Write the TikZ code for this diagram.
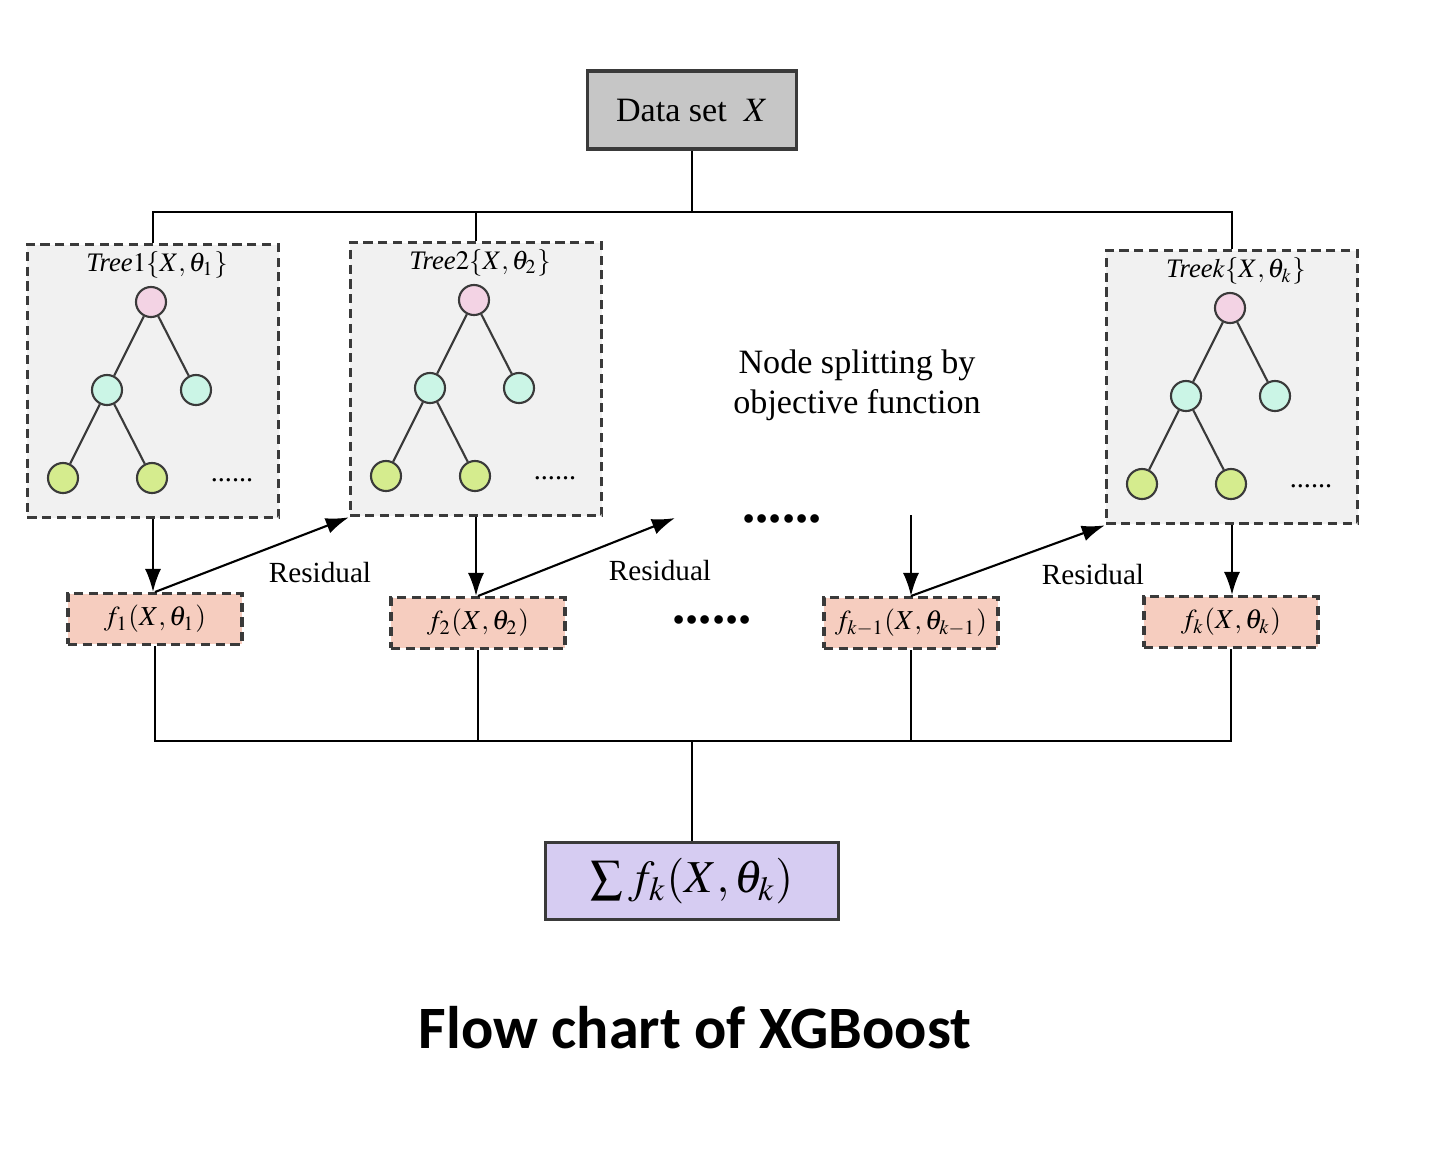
\documentclass[tikz,border=0pt]{standalone}
\usepackage{mathptmx}
\usepackage{fontspec}
\setmainfont{Liberation Serif}
\newfontfamily\titlefont{Carlito}
\usepackage{xcolor}
\usetikzlibrary{arrows.meta,positioning}

\definecolor{datagray}{HTML}{C6C6C6}
\definecolor{treebg}{HTML}{F1F1F1}
\definecolor{rootpink}{HTML}{F3D3E4}
\definecolor{midmint}{HTML}{CBF5E6}
\definecolor{leafgreen}{HTML}{D5EC8E}
\definecolor{fpink}{HTML}{F6CDBF}
\definecolor{sumlav}{HTML}{D6CCF2}
\definecolor{edgegray}{HTML}{3A3A3A}

\begin{document}
\begin{tikzpicture}[x=0.01cm, y=-0.01cm, >={Latex[length=2.3mm,width=1.6mm]},
  line width=0.6pt,
  solidbox/.style={draw=edgegray, line width=0.9pt},
  dashbox/.style={draw=edgegray, line width=0.9pt, dash pattern=on 2.6pt off 1.6pt},
  treebox/.style={dashbox, fill=treebg, minimum width=2.51cm, minimum height=2.73cm},
  fbox/.style={dashbox, fill=fpink, minimum width=1.74cm, minimum height=0.47cm, inner xsep=2pt, font=\fontsize{7.8}{9}\selectfont},
  tnode/.style={circle, draw=edgegray, line width=0.6pt, minimum size=3mm, inner sep=0pt},
  lbl/.style={font=\fontsize{8.3}{10}\selectfont},
  bigdots/.style={font=\fontsize{15}{15}\selectfont\bfseries}]
  \useasboundingbox (0,0) rectangle (1430,1154);

  \node[solidbox, fill=datagray, minimum width=2.09cm, minimum height=0.78cm, font=\fontsize{9.7}{11}\selectfont] (data) at (692,110) {Data set\ \ $X$};

  % the three trees
  \foreach \n/\x/\y/\s in {t1/153/243/1, t2/476/241/2, tk/1232/249/k} {
    \node[treebox, anchor=north] (\n) at (\x,\y) {};
    \node[font=\fontsize{7.6}{8}\selectfont] (\n-title) at (\x+4,\y+22) {\textit{Tree}$\s\{X,\theta_{\s}\}$};
    \node[tnode, fill=rootpink] (\n-r) at (\x-2,\y+59) {};
    \node[tnode, fill=midmint] (\n-a) at (\x-46,\y+147) {};
    \node[tnode, fill=midmint] (\n-b) at (\x+43,\y+147) {};
    \node[tnode, fill=leafgreen] (\n-c) at (\x-90,\y+235) {};
    \node[tnode, fill=leafgreen] (\n-d) at (\x-1,\y+235) {};
    \node[font=\fontsize{8}{8}\selectfont] (\n-dots) at (\x+79,\y+237) {......};
    \draw[edgegray] (\n-r) -- (\n-a) (\n-r) -- (\n-b) (\n-a) -- (\n-c) (\n-a) -- (\n-d);
  }

  \draw (data.south) -- ++(0,61) coordinate (topbus);
  \draw (t1.north) |- (topbus) -| (tk.north);
  \draw (t2.north) -- (t2.north |- topbus);

  \node[lbl, align=center, font=\fontsize{9.7}{11.4}\selectfont] (split) at (857,385) {Node splitting by\\objective function};

  % outputs of the trees
  \node[fbox] (f1) at (155,619) {$f_1(X,\theta_1)$};
  \node[fbox] (f2) at (478,623) {$f_2(X,\theta_2)$};
  \node[fbox] (fk1) at (911,623) {$f_{k-1}(X,\theta_{k-1})$};
  \node[fbox] (fk) at (1231,622) {$f_k(X,\theta_k)$};

  \node[bigdots] (gap1) at (782,519) {......};
  \node[bigdots] (gap2) at (712,620) {......};
  \coordinate (gapout) at (675,518);
  \coordinate (gapin) at (911,515);

  \draw[->] (t1.south) -- (t1.south |- f1.north);
  \draw[->] (t2.south) -- (t2.south |- f2.north);
  \draw[->] (gapin) -- (fk1.north);
  \draw[->] (tk.south) -- (tk.south |- fk.north);

  \draw[->] (f1.north) -- (t2.south west);
  \draw[->] (f2.north) -- (gapout);
  \draw[->] (fk1.north) -- (tk.south west);
  \node[lbl] (res1) at (320,573) {Residual};
  \node[lbl] (res2) at (660,571) {Residual};
  \node[lbl] (res3) at (1093,575) {Residual};

  % sum of all trees
  \node[solidbox, fill=sumlav, minimum width=2.93cm, minimum height=0.77cm, font=\fontsize{13}{14}\selectfont] (sum) at (692,881) {$\sum f_k(X,\theta_k)$};
  \coordinate (botbus) at (692,741);
  \draw (f1.south) |- (botbus) -| (fk.south);
  \draw (f2.south) -- (f2.south |- botbus);
  \draw (fk1.south) -- (fk1.south |- botbus);
  \draw (sum.north) -- (botbus);

  \node[font=\titlefont\bfseries\fontsize{17.1}{17}\selectfont] (title) at (695,1028) {Flow chart of XGBoost};
\end{tikzpicture}
\end{document}
